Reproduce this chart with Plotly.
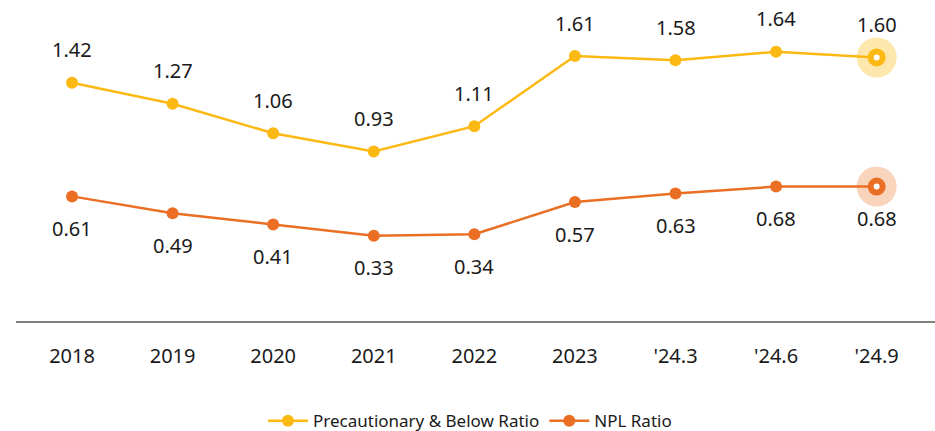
import plotly.graph_objects as go

categories = ["2018", "2019", "2020", "2021", "2022", "2023", "'24.3", "'24.6", "'24.9"]
precautionary = [1.42, 1.27, 1.06, 0.93, 1.11, 1.61, 1.58, 1.64, 1.60]
npl = [0.61, 0.49, 0.41, 0.33, 0.34, 0.57, 0.63, 0.68, 0.68]

YELLOW = "#FDB913"
ORANGE = "#EA6F25"
FONT = "Noto Sans"

fig = go.Figure()

# main lines first so the category order follows the full list
for name, vals, color in [("Precautionary & Below Ratio", precautionary, YELLOW),
                          ("NPL Ratio", npl, ORANGE)]:
    fig.add_trace(go.Scatter(
        x=categories, y=vals, mode="lines+markers", name=name,
        line=dict(color=color, width=2.5),
        marker=dict(size=12, color=color),
    ))

# halo + ring on the latest points
for vals, color, halo in [(precautionary, YELLOW, "rgba(253,185,19,0.35)"),
                          (npl, ORANGE, "rgba(234,111,37,0.3)")]:
    fig.add_trace(go.Scatter(
        x=[categories[-1]], y=[vals[-1]], mode="markers",
        marker=dict(size=40, color=halo),
        showlegend=False, hoverinfo="skip",
    ))
    fig.add_trace(go.Scatter(
        x=[categories[-1]], y=[vals[-1]], mode="markers",
        marker=dict(size=12, color="white", line=dict(color=color, width=6)),
        showlegend=False, hoverinfo="skip",
    ))

for i, v in enumerate(precautionary):
    fig.add_annotation(x=i, y=v, text=f"{v:.2f}", showarrow=False,
                       yshift=33, font=dict(size=20, color="#1a1a1a", family=FONT))
for i, v in enumerate(npl):
    fig.add_annotation(x=i, y=v, text=f"{v:.2f}", showarrow=False,
                       yshift=-32, font=dict(size=20, color="#1a1a1a", family=FONT))

fig.update_layout(
    width=935, height=431,
    margin=dict(t=2, b=109, l=16, r=0, autoexpand=False),
    plot_bgcolor="white", paper_bgcolor="white",
    font=dict(family=FONT, color="#1a1a1a"),
    xaxis=dict(
        type="category", categoryorder="array", categoryarray=categories,
        range=[-0.557, 8.58], showgrid=False, zeroline=False,
        showline=False, ticks="outside", ticklen=16, tickcolor="rgba(0,0,0,0)",
        tickfont=dict(size=20, color="#1a1a1a"),
    ),
    yaxis=dict(range=[-0.285, 1.995], visible=False),
    legend=dict(orientation="h", xanchor="center", x=0.494, yanchor="middle", y=-0.31,
                font=dict(size=17, color="#1a1a1a"), itemwidth=40),
    shapes=[dict(type="line", xref="paper", yref="paper", x0=0, x1=1, y0=0, y1=0,
                 line=dict(color="#5a554f", width=1.5))],
)

# drop the default page margin so the 935x431 figure fills the window exactly
fig.write_html("out.html", config={"displayModeBar": False},
               post_script="document.body.style.margin='0';"
                           "document.body.style.overflow='hidden';")
